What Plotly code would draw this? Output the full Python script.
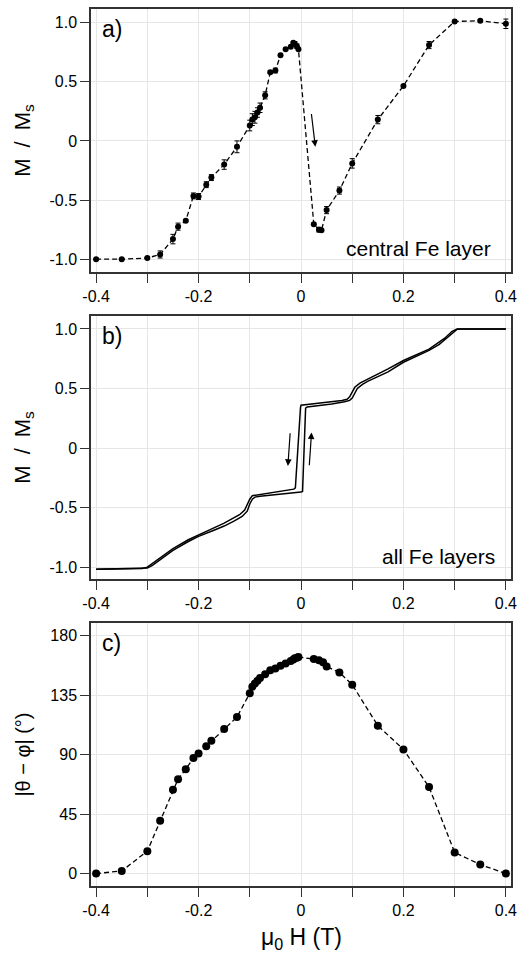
import plotly.graph_objects as go
from plotly.subplots import make_subplots

# ---- data ----
# panel a: central Fe layer
h_a = [-0.4, -0.35, -0.3, -0.275, -0.25, -0.24, -0.225, -0.21, -0.2, -0.185, -0.175, -0.15, -0.125,
       -0.1, -0.095, -0.09, -0.085, -0.08, -0.07, -0.06, -0.05, -0.04, -0.03, -0.02, -0.015, -0.012,
       -0.008, -0.005, 0.025, 0.035, 0.04, 0.05, 0.075, 0.1, 0.15, 0.2, 0.25, 0.3, 0.35, 0.4]
m_a = [-1.0, -1.0, -0.99, -0.96, -0.83, -0.725, -0.675, -0.465, -0.47, -0.37, -0.31, -0.2, -0.05,
       0.13, 0.18, 0.2, 0.24, 0.28, 0.385, 0.58, 0.595, 0.725, 0.775, 0.795, 0.83, 0.82,
       0.8, 0.775, -0.705, -0.75, -0.755, -0.585, -0.42, -0.19, 0.18, 0.465, 0.81, 1.01, 1.015, 0.99]
err_a = [0.005, 0.005, 0.01, 0.03, 0.04, 0.03, 0.01, 0.025, 0.025, 0.025, 0.025, 0.04, 0.05,
         0.045, 0.05, 0.05, 0.04, 0.04, 0.03, 0.01, 0.02, 0.01, 0.01, 0.01, 0.01, 0.02,
         0.02, 0.01, 0.01, 0.02, 0.01, 0.03, 0.03, 0.04, 0.035, 0.01, 0.03, 0.01, 0.01, 0.04]

# panel b: all Fe layers (two branches)
h_up = [-0.4, -0.35, -0.3, -0.29, -0.27, -0.25, -0.22, -0.2, -0.17, -0.15, -0.13, -0.115, -0.105,
        -0.1, -0.095, -0.09, -0.08, -0.05, -0.02, 0.0, 0.003, 0.009, 0.012, 0.03, 0.06, 0.085,
        0.095, 0.1, 0.105, 0.11, 0.12, 0.13, 0.15, 0.17, 0.2, 0.22, 0.25, 0.27, 0.29, 0.3,
        0.305, 0.31, 0.35, 0.4]
m_up = [-1.018, -1.016, -1.008, -0.985, -0.925, -0.86, -0.785, -0.742, -0.69, -0.655, -0.612, -0.575, -0.53,
        -0.47, -0.43, -0.412, -0.404, -0.393, -0.378, -0.37, -0.365, 0.335, 0.345, 0.352, 0.37, 0.388,
        0.40, 0.42, 0.46, 0.50, 0.535, 0.56, 0.60, 0.64, 0.72, 0.76, 0.82, 0.87, 0.945, 0.985,
        0.997, 1.0, 1.0, 1.0]
h_down = [0.4, 0.35, 0.305, 0.295, 0.28, 0.25, 0.22, 0.2, 0.17, 0.15, 0.13, 0.115, 0.105, 0.1,
          0.095, 0.09, 0.08, 0.05, 0.02, 0.0, -0.001, -0.011, -0.014, -0.03, -0.06, -0.085, -0.095,
          -0.1, -0.105, -0.11, -0.12, -0.13, -0.15, -0.17, -0.2, -0.22, -0.25, -0.27, -0.29, -0.3,
          -0.31, -0.35, -0.4]
m_down = [1.0, 1.0, 1.0, 0.98, 0.92, 0.83, 0.77, 0.735, 0.665, 0.62, 0.575, 0.545, 0.51, 0.47,
          0.43, 0.41, 0.40, 0.385, 0.368, 0.36, 0.34, -0.335, -0.345, -0.355, -0.372, -0.39, -0.40,
          -0.43, -0.475, -0.52, -0.56, -0.585, -0.63, -0.67, -0.728, -0.77, -0.845, -0.91, -0.975, -1.0,
          -1.012, -1.016, -1.018]

# panel c: angle between layers
h_c = [-0.4, -0.35, -0.3, -0.275, -0.25, -0.24, -0.225, -0.21, -0.2, -0.185, -0.175, -0.15, -0.125,
       -0.1, -0.095, -0.09, -0.085, -0.08, -0.07, -0.06, -0.05, -0.04, -0.03, -0.02, -0.015, -0.012,
       -0.008, -0.005, 0.025, 0.035, 0.043, 0.05, 0.075, 0.1, 0.15, 0.2, 0.25, 0.3, 0.35, 0.4]
ang_c = [0, 2, 17, 40, 63.5, 71.5, 79, 87.5, 91, 96.5, 100.5, 109.5, 118.5,
         136.5, 141.5, 144, 146, 148, 151, 154, 155.3, 157.3, 159, 161, 162, 163,
         163.5, 164, 162.4, 161.6, 160, 156.8, 152.3, 143, 112, 94, 65.5, 16, 6.8, 0]

x_ticks = [-0.4, -0.3, -0.2, -0.1, 0, 0.1, 0.2, 0.3, 0.4]
x_ticktext = ["-0.4", "", "-0.2", "", "0", "", "0.2", "", "0.4"]
m_ticks = [-1.0, -0.5, 0, 0.5, 1.0]
m_ticktext = ["-1.0", "-0.5", "0", "0.5", "1.0"]
ang_ticks = [0, 45, 90, 135, 180]
ang_ticktext = ["0", "45", "90", "135", "180"]

FONT = "Liberation Sans, Arial, Helvetica, sans-serif"
FRAME = "#333333"
GRID = "#e6e6e6"

fig = make_subplots(rows=3, cols=1, vertical_spacing=0.05)

fig.add_trace(go.Scatter(
    x=h_a, y=m_a, mode="lines+markers",
    line=dict(color="black", width=1.3, dash="5px,3px"),
    marker=dict(color="black", size=6),
    error_y=dict(type="data", array=err_a, color="black", thickness=1, width=2.5),
    showlegend=False), row=1, col=1)

fig.add_trace(go.Scatter(x=h_up, y=m_up, mode="lines",
                         line=dict(color="black", width=1.5), showlegend=False), row=2, col=1)
fig.add_trace(go.Scatter(x=h_down, y=m_down, mode="lines",
                         line=dict(color="black", width=1.5), showlegend=False), row=2, col=1)

fig.add_trace(go.Scatter(
    x=h_c, y=ang_c, mode="lines+markers",
    line=dict(color="black", width=1.3, dash="5px,3px"),
    marker=dict(color="black", size=8),
    showlegend=False), row=3, col=1)

axis_common = dict(
    showline=True, mirror=True, linecolor=FRAME, linewidth=1.5,
    showgrid=True, gridcolor=GRID, gridwidth=1,
    ticks="outside", ticklen=9, tickwidth=1.2, tickcolor=FRAME,
    tickfont=dict(family=FONT, size=16, color="black"),
    zeroline=False,
)
domains = [[0.7, 1.0], [0.35, 0.65], [0.0, 0.3]]
for i, name in enumerate(["", "2", "3"]):
    fig.update_layout(**{
        "xaxis" + name: dict(axis_common, range=[-0.41, 0.41], tickmode="array",
                             tickvals=x_ticks, ticktext=x_ticktext,
                             ticklabeloverflow="allow"),
    })
fig.update_layout(
    yaxis=dict(axis_common, range=[-1.109, 1.115], tickmode="array",
               tickvals=m_ticks, ticktext=m_ticktext, domain=domains[0]),
    yaxis2=dict(axis_common, range=[-1.10, 1.109], tickmode="array",
                tickvals=m_ticks, ticktext=m_ticktext, domain=domains[1]),
    yaxis3=dict(axis_common, range=[-9.4, 189.8], tickmode="array",
                tickvals=ang_ticks, ticktext=ang_ticktext, domain=domains[2]),
)

annotations = []
# panel letters
for ax, lab in [("", "a)"), ("2", "b)"), ("3", "c)")]:
    annotations.append(dict(xref="x" + ax + " domain", yref="y" + ax + " domain",
                            x=0.022, y=0.925, xanchor="left", yanchor="middle",
                            text=lab, showarrow=False,
                            font=dict(family=FONT, size=23, color="black")))
# panel texts
annotations.append(dict(xref="x domain", yref="y domain", x=0.958, y=0.09,
                        xanchor="right", yanchor="middle", text="central Fe layer",
                        showarrow=False, font=dict(family=FONT, size=21, color="black")))
annotations.append(dict(xref="x2 domain", yref="y2 domain", x=0.967, y=0.087,
                        xanchor="right", yanchor="middle", text="all Fe layers",
                        showarrow=False, font=dict(family=FONT, size=21, color="black")))
# y titles
for ax, txt, sz in [("", "M\u2002/\u2002M<sub>s</sub>", 22), ("2", "M\u2002/\u2002M<sub>s</sub>", 22),
                    ("3", "|θ − φ| (°)", 20)]:
    annotations.append(dict(xref="paper", yref="y" + ax + " domain", x=-0.1615, y=0.5,
                            xanchor="center", yanchor="middle", textangle=-90,
                            text=txt, showarrow=False,
                            font=dict(family=FONT, size=sz, color="black")))
# x title
annotations.append(dict(xref="paper", yref="paper", x=0.5, y=-0.079,
                        xanchor="center", yanchor="bottom", text="μ<sub>0</sub> H (T)",
                        showarrow=False, font=dict(family=FONT, size=23, color="black")))
# arrows
arrow_style = dict(showarrow=True, arrowhead=2, arrowsize=1.1, arrowwidth=1.2,
                   arrowcolor="black", text="")
annotations.append(dict(arrow_style, xref="x", yref="y", axref="x", ayref="y",
                        x=0.028, y=-0.05, ax=0.02, ay=0.24))
annotations.append(dict(arrow_style, xref="x2", yref="y2", axref="x2", ayref="y2",
                        x=-0.0256, y=-0.15, ax=-0.021, ay=0.137))
annotations.append(dict(arrow_style, xref="x2", yref="y2", axref="x2", ayref="y2",
                        x=0.0206, y=0.131, ax=0.016, ay=-0.157))

fig.update_layout(
    annotations=annotations,
    width=524, height=956,
    margin=dict(l=91, r=8, t=7, b=70),
    plot_bgcolor="white", paper_bgcolor="white",
    font=dict(family=FONT, color="black"),
)

fig.write_html("out.html", config={"displayModeBar": False},
               post_script="document.body.style.margin='0px';document.body.style.overflow='hidden';")
